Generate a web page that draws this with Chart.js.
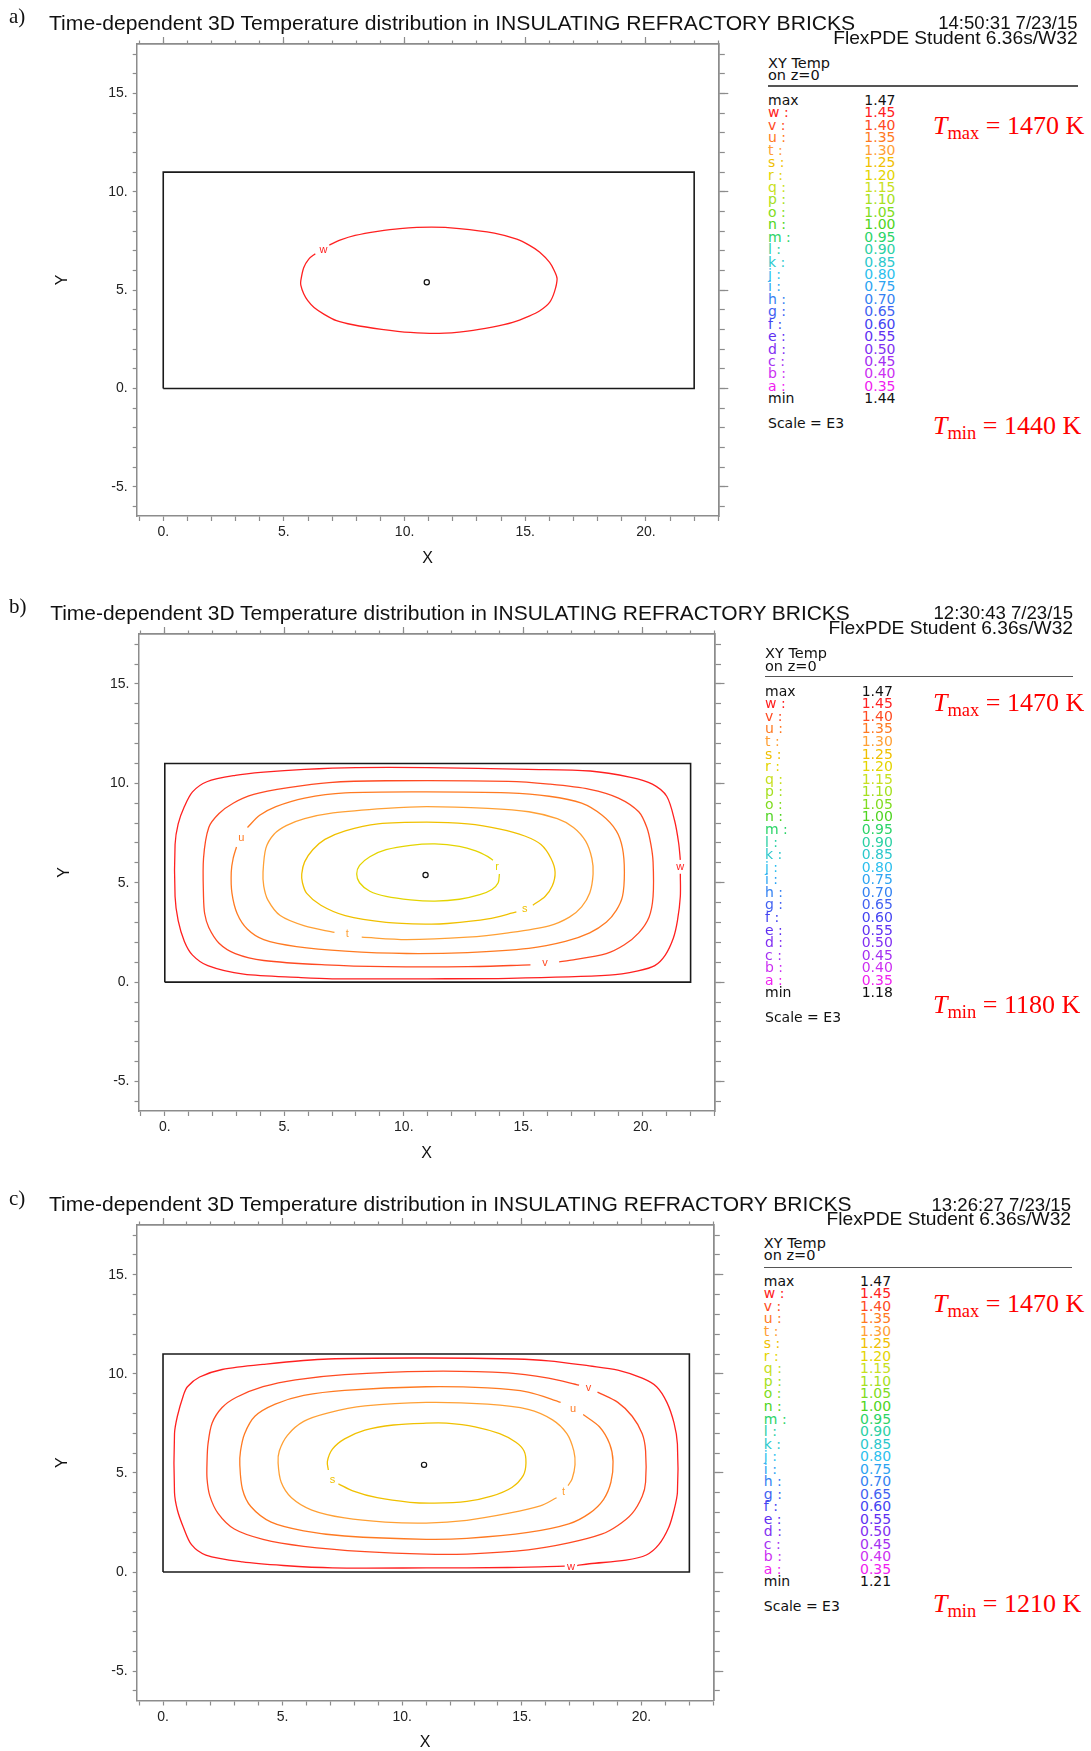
<!DOCTYPE html>
<html>
<head>
<meta charset="utf-8">
<script src="https://cdn.jsdelivr.net/npm/chart.js@4.4.0/dist/chart.umd.min.js"></script>
<style>
  html, body { margin: 0; padding: 0; background: #fff; }
  body { position: relative; width: 1091px; height: 1751px; overflow: hidden; }
  canvas { position: absolute; left: 0; }
  .t { position: absolute; white-space: nowrap; line-height: 1; color: #111; }
  .sans { font-family: "Liberation Sans", Arial, sans-serif; }
  .leg { font-family: "DejaVu Sans", sans-serif; }
  .serif { font-family: "Liberation Serif", "Times New Roman", serif; }
  .tk { color: #ff0000; font-size: 26px; transform: none; }
  .tk .sb { font-size: 18.5px; vertical-align: -5px; }
</style>
</head>
<body>
<canvas id="panel0" width="740" height="575"></canvas>
<canvas id="panel1" width="740" height="575"></canvas>
<canvas id="panel2" width="740" height="575"></canvas>
<script>
// ---- data ----
const xRange = [-1.1, 23.0];
const yRange = [-6.48, 17.51];
const brick = [[0, 0], [22, 0], [22, 11], [0, 11], [0, 0]];
const centers = [[10.92, 5.40], [10.91, 5.39], [10.91, 5.41]];

const panelLabels = ["a)", "b)", "c)"];
const titleText = "Time-dependent 3D Temperature distribution in INSULATING REFRACTORY BRICKS";
const timeStamps = ["14:50:31 7/23/15", "12:30:43 7/23/15", "13:26:27 7/23/15"];
const versionText = "FlexPDE Student 6.36s/W32";

const levelLetters = ["w", "v", "u", "t", "s", "r", "q", "p", "o", "n", "m", "l", "k", "j", "i", "h", "g", "f", "e", "d", "c", "b", "a"];
const levelValues = [1.45, 1.40, 1.35, 1.30, 1.25, 1.20, 1.15, 1.10, 1.05, 1.00, 0.95, 0.90, 0.85, 0.80, 0.75, 0.70, 0.65, 0.60, 0.55, 0.50, 0.45, 0.40, 0.35];
const levelColors = ["#ff2020", "#ff4a22", "#ff7a22", "#ffa035", "#f0c000", "#e4d400", "#c8e020", "#a6e020", "#80dc20", "#4ed420", "#2cd468", "#2cd0a4", "#2cc8cc", "#2cbfee", "#2ca4f2", "#3482f2", "#4262f2", "#4444f2", "#6030f2", "#8230f2", "#a430f2", "#cc30f2", "#f020f0"];
const maxValues = [1.47, 1.47, 1.47];
const minValues = [1.44, 1.18, 1.21];
const tMax = ["1470 K", "1470 K", "1470 K"];
const tMin = ["1440 K", "1180 K", "1210 K"];

// panel a
const aW = [[6.88,7.29],[7.35,7.55],[7.95,7.78],[8.88,7.99],[9.81,8.13],[11.12,8.20],[12.27,8.13],[13.72,7.90],[14.65,7.59],[15.16,7.29],[15.59,6.94],[16.01,6.41],[16.21,5.97],[16.32,5.58],[16.21,4.91],[16.01,4.38],[15.59,3.94],[15.16,3.68],[14.48,3.36],[13.63,3.12],[12.61,2.92],[11.43,2.80],[10.24,2.85],[9.05,3.01],[7.86,3.24],[7.18,3.45],[6.67,3.77],[6.25,4.12],[5.99,4.47],[5.82,4.82],[5.70,5.26],[5.70,5.48],[5.82,6.14],[6.03,6.58],[6.30,6.85]];

// panel b
const bW = [[21.57,5.45],[21.57,4.31],[21.45,3.09],[21.28,2.22],[20.94,1.36],[20.5,0.83],[19.8,0.57],[18.6,0.35],[14.4,0.19],[11.0,0.17],[7.0,0.17],[5.7,0.23],[3.3,0.40],[1.8,0.83],[1.16,1.36],[0.82,2.05],[0.56,3.09],[0.43,4.31],[0.43,6.92],[0.56,7.96],[0.82,8.83],[1.16,9.57],[1.76,10.08],[2.95,10.40],[4.14,10.56],[5.85,10.70],[8.0,10.79],[11.0,10.79],[15.2,10.70],[17.8,10.62],[19.5,10.30],[20.4,9.96],[21.0,9.35],[21.33,8.13],[21.5,7.0],[21.57,6.15]];
const bV = [[15.3,0.87],[12.67,0.78],[9.26,0.78],[6.70,0.87],[4.14,1.09],[2.95,1.44],[2.27,1.96],[1.84,2.75],[1.67,3.44],[1.62,4.31],[1.62,6.22],[1.84,7.78],[2.27,8.48],[2.86,9.00],[3.72,9.44],[5.17,9.78],[6.87,10.04],[9.26,10.13],[14.37,10.10],[16.08,9.96],[17.78,9.70],[18.98,9.26],[19.83,8.57],[20.17,7.78],[20.34,6.92],[20.43,6.05],[20.43,4.31],[20.26,3.27],[19.83,2.48],[19.23,1.88],[18.47,1.44],[16.93,1.09],[16.5,1.02]];
const bU = [[3.46,7.78],[3.97,8.39],[4.65,8.83],[5.85,9.26],[7.55,9.52],[10.96,9.57],[14.37,9.52],[16.08,9.35],[17.44,9.00],[18.30,8.39],[18.89,7.61],[19.15,6.74],[19.23,5.53],[19.15,4.31],[18.89,3.61],[18.47,3.01],[17.78,2.48],[16.76,2.05],[15.23,1.70],[12.67,1.49],[10.11,1.44],[7.55,1.56],[5.51,1.79],[4.14,2.14],[3.46,2.66],[3.03,3.44],[2.81,4.48],[2.78,5.53],[2.86,6.22],[3.0,6.8]];
const bT = [[8.24,2.26],[10.11,2.14],[12.67,2.26],[14.37,2.48],[16.08,2.83],[16.93,3.27],[17.44,3.79],[17.78,4.48],[17.92,5.44],[17.87,6.22],[17.61,7.09],[17.10,7.78],[16.42,8.22],[15.23,8.57],[13.52,8.74],[10.96,8.83],[9.26,8.74],[7.04,8.51],[5.85,8.22],[5.08,7.87],[4.57,7.44],[4.23,6.74],[4.11,5.53],[4.14,4.83],[4.31,4.14],[4.83,3.35],[5.85,2.83],[7.1,2.5]];
const bS = [[14.71,3.53],[13.52,3.18],[11.82,2.95],[10.96,2.92],[9.26,3.01],[7.55,3.35],[6.53,3.87],[5.93,4.48],[5.76,5.00],[5.73,5.44],[5.85,6.05],[6.19,6.66],[6.70,7.18],[7.55,7.61],[8.92,7.96],[10.96,8.05],[12.67,7.96],[14.03,7.70],[15.06,7.35],[15.74,6.92],[16.16,6.22],[16.33,5.53],[16.21,4.83],[15.91,4.31],[15.40,3.87]];
const bR = [[14.00,5.44],[13.95,5.00],[13.69,4.66],[13.18,4.40],[12.33,4.17],[11.30,4.08],[10.28,4.14],[9.26,4.31],[8.58,4.57],[8.15,5.00],[8.03,5.44],[8.15,5.87],[8.58,6.31],[9.26,6.66],[10.28,6.88],[11.30,6.95],[12.33,6.83],[13.01,6.60],[13.52,6.31],[13.73,6.13]];

// panel c
const cW = [[16.79,0.30],[14.41,0.23],[11.0,0.21],[7.08,0.21],[5.03,0.33],[3.32,0.51],[1.79,0.86],[1.19,1.38],[0.85,2.26],[0.60,3.13],[0.48,4.01],[0.48,6.98],[0.60,7.86],[0.85,8.91],[1.02,9.35],[1.53,9.84],[2.47,10.22],[4.18,10.48],[6.91,10.75],[11.0,10.80],[14.75,10.75],[16.11,10.66],[17.82,10.40],[19.01,10.19],[20.03,9.78],[20.63,9.35],[21.06,8.56],[21.36,7.51],[21.50,6.46],[21.50,4.01],[21.36,3.13],[21.14,2.26],[20.72,1.38],[20.20,0.86],[19.35,0.60],[17.82,0.42],[17.31,0.33]];
const cV = [[18.16,9.08],[19.01,8.56],[19.61,7.86],[20.03,6.98],[20.17,6.11],[20.17,4.53],[20.03,3.83],[19.61,2.96],[19.01,2.35],[18.33,1.91],[16.96,1.47],[15.26,1.12],[12.70,0.91],[11.0,0.90],[8.44,1.03],[5.88,1.30],[4.18,1.65],[2.98,2.17],[2.30,2.96],[1.96,3.83],[1.84,4.71],[1.84,5.58],[1.88,6.46],[2.05,7.51],[2.47,8.30],[3.07,8.82],[4.18,9.35],[5.54,9.70],[7.59,9.96],[11.0,10.13],[14.41,10.05],[16.11,9.78],[17.39,9.43]];
const cU = [[17.56,7.95],[18.24,7.33],[18.67,6.46],[18.81,5.58],[18.72,4.53],[18.41,3.66],[17.82,2.96],[16.96,2.43],[15.26,2.00],[12.70,1.70],[11.0,1.65],[7.59,1.82],[5.88,2.08],[4.52,2.52],[3.67,3.31],[3.32,4.18],[3.21,5.41],[3.24,6.11],[3.41,6.98],[3.84,7.86],[4.69,8.47],[5.88,8.91],[7.59,9.17],[11.0,9.35],[13.56,9.29],[15.26,9.08],[16.62,8.56]];
const cT = [[16.45,3.75],[15.77,3.34],[14.41,2.96],[12.70,2.61],[11.0,2.47],[9.29,2.52],[7.59,2.73],[6.22,3.13],[5.37,3.75],[4.94,4.53],[4.81,5.50],[4.86,6.11],[5.20,6.90],[5.88,7.60],[6.91,8.03],[8.44,8.38],[11.0,8.56],[13.56,8.47],[15.26,8.21],[16.28,7.68],[16.88,6.98],[17.17,6.11],[17.22,5.41],[17.10,4.71],[16.93,4.36]];
const cS = [[7.33,4.45],[7.93,4.10],[8.95,3.75],[10.32,3.52],[11.34,3.48],[12.70,3.57],[13.73,3.83],[14.58,4.27],[15.06,4.88],[15.17,5.50],[15.09,6.11],[14.75,6.55],[14.07,6.98],[13.04,7.33],[11.85,7.51],[11.0,7.51],[9.63,7.42],[8.44,7.16],[7.59,6.72],[7.08,6.20],[6.87,5.58],[6.91,5.15]];

const contours = [
  [["w", aW]],
  [["w", bW], ["v", bV], ["u", bU], ["t", bT], ["s", bS], ["r", bR]],
  [["w", cW], ["v", cV], ["u", cU], ["t", cT], ["s", cS]]
];
const contourTags = [
  [["w", 6.64, 7.02]],
  [["u", 3.2, 7.26], ["r", 13.9, 5.79], ["s", 15.06, 3.70], ["t", 7.64, 2.40], ["v", 15.91, 0.96], ["w", 21.57, 5.79]],
  [["v", 17.78, 9.29], ["u", 17.14, 8.24], ["t", 16.74, 4.04], ["s", 7.08, 4.67], ["w", 17.05, 0.25]]
];

// ---- page layout (pixels) ----
const frames = [
  { l: 136.7, r: 718.3, t: 44, b: 516 },
  { l: 138.5, r: 714.5, t: 633.5, b: 1110.5 },
  { l: 136.7, r: 713.3, t: 1225, b: 1700.5 }
];
const heads = [
  { labelY: 16, titleX: 49, titleY: 22.5, titleW: 807, stampR: 1077.6, stampY: 23.4, verY: 38 },
  { labelY: 606, titleX: 50.2, titleY: 612.5, titleW: 800, stampR: 1073, stampY: 613, verY: 627.6 },
  { labelY: 1198, titleX: 49, titleY: 1204, titleW: 803, stampR: 1071, stampY: 1205, verY: 1219.4 }
];
const legends = [
  { x: 768, headY: 62.7, lineY: 86, lineR: 1077.7, maxY: 100, step: 12.43, valX: 864.3, scaleY: 422.7, tmaxB: 135, tminB: 435 },
  { x: 765, headY: 653.3, lineY: 676.7, lineR: 1073.3, maxY: 690.7, step: 12.57, valX: 861.7, scaleY: 1017.3, tmaxB: 711.5, tminB: 1013.3 },
  { x: 763.8, headY: 1242.8, lineY: 1267.4, lineR: 1072, maxY: 1280.8, step: 12.52, valX: 860, scaleY: 1605.8, tmaxB: 1312.5, tminB: 1613 }
];

const CANVAS_W = 740, CANVAS_H = 575, AREA_TOP = 44, X_AXIS_H = 52;
const grey = "#8c8c8c";
const tickFont = { family: '"Liberation Sans", Arial, sans-serif', size: 14 };

function colorOf(letter) {
  return levelColors[levelLetters.indexOf(letter)];
}

function put(html, x, y, cls, style, alignRight) {
  const d = document.createElement("div");
  d.className = "t " + cls;
  d.innerHTML = html;
  Object.assign(d.style, style || {});
  if (alignRight) d.style.right = (1091 - x) + "px"; else d.style.left = x + "px";
  d.style.top = y + "px";
  if (!d.style.transform) d.style.transform = "translateY(-50%)";
  document.body.appendChild(d);
  return d;
}

function fitWidth(d, w) {
  const cur = d.getBoundingClientRect().width;
  const fs = parseFloat(d.style.fontSize);
  d.style.fontSize = (fs * w / cur) + "px";
}

// contour level letters drawn at their data positions
const contourLetters = {
  id: "contourLetters",
  afterDatasetsDraw(chart, args, opts) {
    const { ctx, scales } = chart;
    ctx.save();
    ctx.font = '11px "Liberation Sans", Arial, sans-serif';
    ctx.textAlign = "center";
    ctx.textBaseline = "middle";
    (opts.tags || []).forEach(([t, vx, vy]) => {
      ctx.fillStyle = colorOf(t);
      ctx.fillText(t, scales.x.getPixelForValue(vx), scales.y.getPixelForValue(vy));
    });
    ctx.restore();
  }
};

function toPts(arr) {
  return arr.map(p => ({ x: p[0], y: p[1] }));
}

function markAxis(axis, position, min, max, step, len) {
  return {
    type: "linear", axis, position, min, max,
    ticks: { display: false, stepSize: step, includeBounds: false, autoSkip: false, maxTicksLimit: 100 },
    grid: { drawOnChartArea: false, tickLength: len, tickColor: grey, tickWidth: 1.2 },
    border: { color: grey, width: 1.5 },
    afterFit: s => {
      if (axis === "x") { s.height = 0; s.paddingLeft = 0; s.paddingRight = 0; }
      else { s.width = 0; s.paddingTop = 0; s.paddingBottom = 0; }
    }
  };
}

function buildPanel(i) {
  const f = frames[i];
  const canvas = document.getElementById("panel" + i);
  canvas.style.top = (f.t - AREA_TOP) + "px";

  const datasets = [{
    data: toPts(brick), borderColor: "#1a1a1a", borderWidth: 1.6,
    showLine: true, pointRadius: 0, tension: 0
  }];
  contours[i].forEach(([lv, pts]) => {
    datasets.push({
      data: toPts(pts), borderColor: colorOf(lv), borderWidth: 1.3,
      showLine: true, pointRadius: 0, tension: 0.3
    });
  });
  datasets.push({
    data: [{ x: centers[i][0], y: centers[i][1] }], showLine: false,
    pointRadius: 2.6, pointBorderWidth: 1.2, pointBorderColor: "#111", pointBackgroundColor: "#fff"
  });

  const labelOf = v => (Math.abs(v % 5) < 1e-9 ? Math.round(v) + "." : "");

  new Chart(canvas, {
    type: "scatter",
    data: { datasets },
    options: {
      responsive: false,
      animation: false,
      events: [],
      layout: {
        padding: {
          left: f.l - 84,
          right: CANVAS_W - f.r,
          top: AREA_TOP,
          bottom: CANVAS_H - AREA_TOP - (f.b - f.t) - X_AXIS_H
        }
      },
      scales: {
        x: {
          type: "linear", position: "bottom", min: xRange[0], max: xRange[1],
          ticks: { stepSize: 1, includeBounds: false, autoSkip: false, maxTicksLimit: 100, maxRotation: 0,
                   callback: labelOf, font: tickFont, color: "#222", padding: 3 },
          grid: { drawOnChartArea: false, tickLength: 5, tickColor: grey, tickWidth: 1.2 },
          border: { color: grey, width: 1.5 },
          title: { display: true, text: "X", color: "#111", padding: 0,
                   font: { family: '"Liberation Sans", Arial, sans-serif', size: 16 } },
          afterFit: s => { s.height = X_AXIS_H; s.paddingLeft = 0; s.paddingRight = 0; }
        },
        y: {
          type: "linear", position: "left", min: yRange[0], max: yRange[1],
          ticks: { stepSize: 1, includeBounds: false, autoSkip: false, maxTicksLimit: 100,
                   callback: labelOf, font: tickFont, color: "#222", padding: 5 },
          grid: { drawOnChartArea: false, tickLength: 4, tickColor: grey, tickWidth: 1.2 },
          border: { color: grey, width: 1.5 },
          title: { display: true, text: "Y", color: "#111", padding: 0,
                   font: { family: '"Liberation Sans", Arial, sans-serif', size: 16 } },
          afterFit: s => { s.width = 84; s.paddingTop = 0; s.paddingBottom = 0; }
        },
        xTopMinor: markAxis("x", "top", xRange[0], xRange[1], 1, 3.5),
        xTopMajor: markAxis("x", "top", xRange[0], xRange[1], 5, 7),
        yRightMinor: markAxis("y", "right", yRange[0], yRange[1], 1, 6.5),
        yRightMajor: markAxis("y", "right", yRange[0], yRange[1], 5, 10)
      },
      plugins: {
        legend: { display: false },
        tooltip: { enabled: false },
        contourLetters: { tags: contourTags[i] }
      }
    },
    plugins: [contourLetters]
  });
}

function buildTexts(i) {
  const h = heads[i];
  const g = legends[i];

  put(panelLabels[i], 9, h.labelY, "serif", { fontSize: "21px" });
  const title = put(titleText, h.titleX, h.titleY, "sans", { fontSize: "18px" });
  fitWidth(title, h.titleW);
  const stamp = put(timeStamps[i], h.stampR, h.stampY, "sans", { fontSize: "17px" }, true);
  fitWidth(stamp, 139.6);
  const ver = put(versionText, h.stampR, h.verY, "sans", { fontSize: "17px" }, true);
  fitWidth(ver, 244.6);

  put("XY Temp", g.x, g.headY, "leg", { fontSize: "14.5px" });
  put("on z=0", g.x, g.headY + 12.3, "leg", { fontSize: "14.5px" });
  const rule = document.createElement("div");
  Object.assign(rule.style, {
    position: "absolute", left: g.x + "px", top: (g.lineY - 0.75) + "px",
    width: (g.lineR - g.x) + "px", height: "1.5px", background: "#555"
  });
  document.body.appendChild(rule);

  const fs = "14px";
  put("max", g.x, g.maxY, "leg", { fontSize: fs });
  put(maxValues[i].toFixed(2), g.valX, g.maxY, "leg", { fontSize: fs });
  levelLetters.forEach((lt, k) => {
    const y = g.maxY + (k + 1) * g.step;
    const st = { fontSize: fs, color: levelColors[k] };
    put(lt + " :", g.x, y, "leg", st);
    put(levelValues[k].toFixed(2), g.valX, y, "leg", st);
  });
  const minY = g.maxY + (levelLetters.length + 1) * g.step;
  put("min", g.x, minY, "leg", { fontSize: fs });
  put(minValues[i].toFixed(2), g.valX, minY, "leg", { fontSize: fs });
  put("Scale = E3", g.x, g.scaleY, "leg", { fontSize: "14px" });

  // baseline placement: line-height 1, Liberation Serif baseline at ~0.8375em
  put('<i>T</i><span class="sb">max</span> = ' + tMax[i], 933, g.tmaxB - 21.8, "serif tk", { transform: "none" });
  put('<i>T</i><span class="sb">min</span> = ' + tMin[i], 933, g.tminB - 21.8, "serif tk", { transform: "none" });
}

for (let i = 0; i < 3; i++) {
  buildPanel(i);
  buildTexts(i);
}
</script>
</body>
</html>
